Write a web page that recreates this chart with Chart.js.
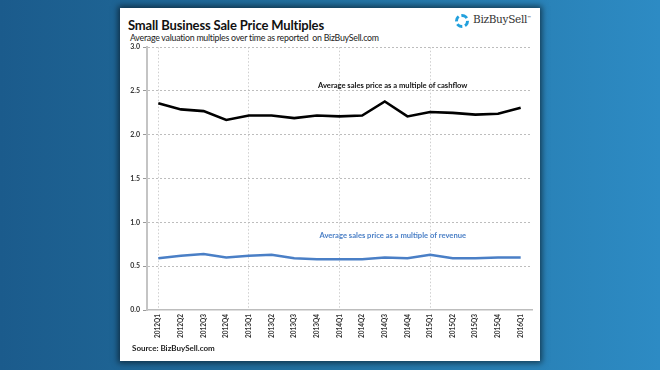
<!DOCTYPE html>
<html>
<head>
<meta charset="utf-8">
<script src="https://cdn.jsdelivr.net/npm/chart.js@4"></script>
<style>
  html, body { margin: 0; padding: 0; }
  body {
    width: 660px; height: 370px; overflow: hidden; position: relative;
    background: linear-gradient(90deg, #1b5b8c 0%, #22709f 45%, #2d8bc4 100%);
    font-family: Lato, 'Open Sans', sans-serif;
  }
  .card {
    position: absolute; left: 120px; top: 8px; width: 420px; height: 353px;
    background: #fff; box-shadow: 0 0 6px 2px rgba(0,0,0,0.55);
  }
  .title { position: absolute; left: 8px; top: 9px; font-size: 13px; letter-spacing: -0.15px; font-weight: bold; color: #111; white-space: nowrap; }
  .sub { position: absolute; left: 10px; top: 24px; font-size: 8.8px; letter-spacing: -0.25px; color: #222; white-space: nowrap; }
  .logo { position: absolute; left: 335px; top: 5px; white-space: nowrap; }
  .logo .ring { position: absolute; left: 0; top: 1px; width: 8px; height: 8px; border: 3px dashed #22a0dd; border-radius: 50%; }
  .logo .name { position: absolute; left: 18px; top: 0; font-family: 'DejaVu Serif', serif; font-size: 10.5px; color: #333; letter-spacing: -0.3px; }
  .logo .name sup { font-size: 4px; }
  .source { position: absolute; left: 12px; top: 335px; font-size: 8px; font-weight: bold; color: #222; white-space: nowrap; }
  .wrap { position: absolute; left: 0; top: 32px; width: 420px; height: 305px; }
</style>
</head>
<body>
<div class="card">
  <div class="title">Small Business Sale Price Multiples</div>
  <div class="sub">Average valuation multiples over time as reported&nbsp; on BizBuySell.com</div>
  <div class="logo"><div class="ring"></div><div class="name">BizBuySell<sup>™</sup></div></div>
  <div class="wrap"><canvas id="c"></canvas></div>
  <div class="source">Source: BizBuySell.com</div>
</div>
<script>
const quarters = ['2012Q1','2012Q2','2012Q3','2012Q4','2013Q1','2013Q2','2013Q3','2013Q4',
  '2014Q1','2014Q2','2014Q3','2014Q4','2015Q1','2015Q2','2015Q3','2015Q4','2016Q1'];
const cashflowMultiple = [2.36, 2.29, 2.27, 2.17, 2.22, 2.22, 2.19, 2.22, 2.21, 2.22, 2.38, 2.21, 2.26, 2.25, 2.23, 2.24, 2.31];
const revenueMultiple = [0.59, 0.62, 0.64, 0.60, 0.62, 0.63, 0.59, 0.58, 0.58, 0.58, 0.60, 0.59, 0.63, 0.59, 0.59, 0.60, 0.60];
const yTicks = [0, 0.5, 1.0, 1.5, 2.0, 2.5, 3.0];

// series captions drawn inside the plot, placed through the scales
const captions = {
  id: 'captions',
  afterDatasetsDraw(chart, args, opts) {
    const { ctx, scales: { x, y } } = chart;
    ctx.save();
    ctx.textAlign = 'center';
    ctx.textBaseline = 'middle';
    ctx.font = 'bold 7.6px Lato';
    opts.items.forEach(it => {
      ctx.fillStyle = it.color;
      ctx.fillText(it.text, x.getPixelForValue(it.at), y.getPixelForValue(it.val));
    });
    ctx.restore();
  }
};

Chart.defaults.font.family = 'Lato';
new Chart(document.getElementById('c'), {
  type: 'line',
  data: {
    labels: quarters,
    datasets: [
      { data: cashflowMultiple, borderColor: '#000', borderWidth: 2.6, pointRadius: 0, tension: 0 },
      { data: revenueMultiple, borderColor: '#4a7fc6', borderWidth: 2.6, pointRadius: 0, tension: 0 }
    ]
  },
  options: {
    responsive: true,
    maintainAspectRatio: false,
    animation: false,
    layout: { padding: { top: 4, right: 8, left: 0, bottom: 0 } },
    plugins: {
      legend: { display: false },
      tooltip: { enabled: false },
      captions: {
        items: [
          { text: 'Average sales price as a multiple of cashflow', at: 10.35, val: 2.56, color: '#111' },
          { text: 'Average sales price as a multiple of revenue', at: 10.35, val: 0.85, color: '#4a7fc6' }
        ]
      }
    },
    scales: {
      x: {
        offset: true,
        afterFit: s => { s.height = 35; },
        grid: {
          offset: false,
          color: c => (c.index % 4 === 0 && c.index < 16) ? '#cfcfcf' : 'rgba(0,0,0,0)',
          lineWidth: 1,
          drawTicks: false
        },
        border: { color: '#bdbdbd', width: 1.5, dash: [1.5, 2] },
        ticks: {
          autoSkip: false, minRotation: 90, maxRotation: 90, padding: 4,
          color: '#333', font: { size: 6.5, weight: 'bold' }
        }
      },
      y: {
        min: 0, max: 3,
        afterFit: s => { s.width = 27; },
        afterBuildTicks: s => { s.ticks = yTicks.map(v => ({ value: v })); },
        grid: { color: c => c.tick.value === 0 ? 'rgba(0,0,0,0)' : '#bdbdbd', lineWidth: 1, tickLength: 4, tickColor: '#999' },
        border: { color: '#c4c4c4', width: 2, dash: [2, 2] },
        ticks: {
          padding: 3, color: '#333', font: { size: 7, weight: 'bold' },
          callback: v => Number(v).toFixed(1)
        }
      }
    }
  },
  plugins: [captions]
});
</script>
</body>
</html>
